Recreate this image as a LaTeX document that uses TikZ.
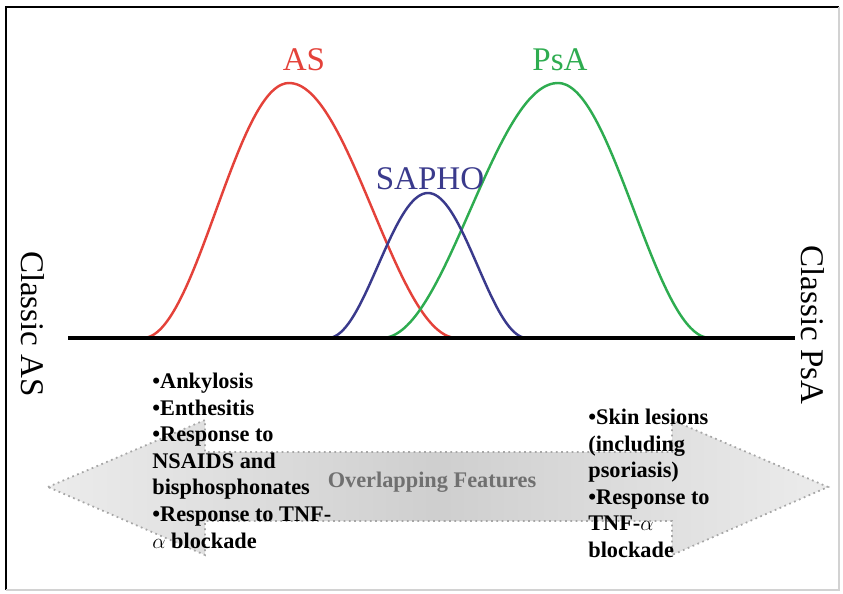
\documentclass[tikz,border=0pt]{standalone}
\usepackage{fontspec}
\setmainfont{Liberation Serif}
\usetikzlibrary{positioning, calc}
\definecolor{asred}{RGB}{228,66,58}
\definecolor{psagreen}{RGB}{46,172,80}
\definecolor{saphoblue}{RGB}{58,58,140}
\definecolor{overlapgray}{RGB}{112,112,112}
\tikzset{
  biglabel/.style={font=\fontsize{18.8}{22}\selectfont, inner sep=0pt},
  featurelist/.style={font=\bfseries\fontsize{12.7}{15.1}\selectfont, align=left, inner sep=0pt},
  bell/.style={line width=1.4pt, domain=0:1, samples=40, smooth}
}

\begin{document}
\begin{tikzpicture}
    \useasboundingbox (0,0) rectangle (16.86,11.86);

    % Frame
    \draw[black, line width=1.2pt] (0.12,0.06) -- (0.12,11.72) -- (16.78,11.72);
    \draw[gray!35, line width=0.6pt] (16.78,11.72) -- (16.78,0.06) -- (0.12,0.06);

    % Overlap arrow (double headed)
    \shadedraw[left color=gray!15, right color=gray!15, middle color=gray!38,
        draw=gray!70, dotted, line width=1pt]
        (0.96,2.12) -- (4.10,3.46) -- (4.10,2.82) -- (13.44,2.82) -- (13.44,3.46)
        -- (16.56,2.12) -- (13.44,0.76) -- (13.44,1.44) -- (4.10,1.44) -- (4.10,0.76) -- cycle;
    \node[featurelist, text=overlapgray] (overlap) at (8.64,2.22) {Overlapping Features};

    % AS curve
    \draw[bell, asred] plot ({2.86+2.92*\x}, {5.10+5.10*(1-cos(180*\x))/2})
        -- plot ({5.78+3.36*\x}, {5.10+5.10*(1+cos(180*\x))/2});
    % PsA curve
    \draw[bell, psagreen] plot ({7.64+3.52*\x}, {5.10+5.10*(1-cos(180*\x))/2})
        -- plot ({11.16+3.04*\x}, {5.10+5.10*(1+cos(180*\x))/2});
    % SAPHO curve
    \draw[bell, saphoblue] plot ({6.56+2.00*\x}, {5.10+2.90*(1-cos(180*\x))/2})
        -- plot ({8.56+1.98*\x}, {5.10+2.90*(1+cos(180*\x))/2});

    % Baseline
    \draw[line width=2pt] (1.36,5.10) -- (15.90,5.10);

    % Labels
    \node[biglabel, text=asred] (aslabel) at (6.08,10.66) {AS};
    \node[biglabel, text=psagreen] (psalabel) at (11.20,10.66) {PsA};
    \node[biglabel, text=saphoblue] (sapholabel) at (8.60,8.28) {SAPHO};
    \node[biglabel, rotate=-90] (classicas) at (0.66,5.38) {Classic AS};
    \node[biglabel, rotate=-90] (classicpsa) at (16.26,5.36) {Classic PsA};

    % Features
    \node[featurelist, anchor=north west] (asfeatures) at (3.04,4.40) {%
        •Ankylosis\\
        •Enthesitis\\
        •Response to\\
        NSAIDS and\\
        bisphosphonates\\
        •Response to TNF-\\
        $\alpha$ blockade};
    \node[featurelist, anchor=north west] (psafeatures) at (11.76,3.68) {%
        •Skin lesions\\
        (including\\
        psoriasis)\\
        •Response to\\
        TNF-$\alpha$\\
        blockade};
\end{tikzpicture}
\end{document}
